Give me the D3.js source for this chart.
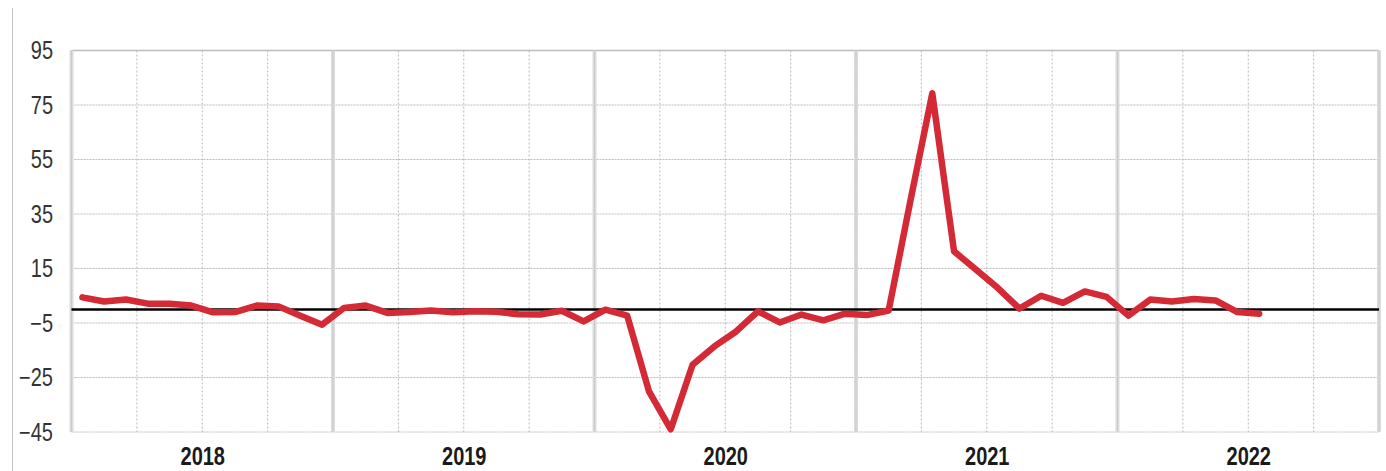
<!DOCTYPE html>
<html>
<head>
<meta charset="utf-8">
<script src="https://cdn.jsdelivr.net/npm/d3@7"></script>
<style>
    body { margin: 0; background: #fff; }
    .yAxis text { font-family: "Liberation Sans", Arial, sans-serif; font-size: 25px; fill: #333; }
    .xAxis text { font-family: "Liberation Sans", Arial, sans-serif; font-size: 25px; font-weight: bold; fill: #1a1a1a; }
</style>
</head>
<body>
<svg id="chart" width="1386" height="471"></svg>
<script>
// monthly values, Jan 2018 .. Jul 2022
var years = ["2018", "2019", "2020", "2021", "2022"];
var values2018 = [4.4, 2.9, 3.6, 2.1, 2.1, 1.4, -1.1, -1.0, 1.4, 1.1, -2.3, -5.6];
var values2019 = [0.5, 1.4, -1.3, -1.0, -0.4, -1.1, -0.7, -0.9, -1.8, -1.9, -0.5, -4.4];
var values2020 = [-0.1, -2.3, -30.1, -44.0, -20.3, -13.6, -8.1, -0.7, -4.8, -1.9, -4.0, -1.6];
var values2021 = [-2.1, -0.4, 40.0, 79.3, 21.3, 14.6, 7.9, 0.3, 5.0, 2.4, 6.6, 4.6];
var values2022 = [-2.3, 3.6, 2.9, 3.8, 3.3, -1.0, -1.6];
var yTicks = [95, 75, 55, 35, 15, -5, -25, -45];

var values = [].concat(values2018, values2019, values2020, values2021, values2022);

var svg = d3.select("#chart");

// plot area
var pLeft = 71.5, pRight = 1379, pTop = 50.5, pBottom = 432;
// narrow font look (no Arial Narrow installed)
var narrow = "scale(0.8,1)";

var x = d3.scaleLinear().domain([0, years.length * 12]).range([pLeft, pRight]);
var y = d3.scaleLinear().domain([-45, 95]).range([pBottom, pTop]);

// outer left rule
svg.append("line")
    .attr("x1", 12.5).attr("x2", 12.5)
    .attr("y1", 8).attr("y2", 471)
    .attr("stroke", "#c4c4c4").attr("stroke-width", 1);

var grid = svg.append("g");

// horizontal grid
grid.selectAll(".hgrid")
    .data(yTicks)
    .enter()
    .append("line")
    .attr("x1", pLeft).attr("x2", pRight)
    .attr("y1", d => y(d)).attr("y2", d => y(d))
    .attr("stroke", "#bdbdbd")
    .attr("stroke-width", d => d === 95 ? 1.5 : 1)
    .attr("stroke-dasharray", d => d === 95 ? null : "2,1");

// quarter lines
var quarters = [];
for (var m = 0; m < years.length * 12; m += 3) {
    if (m % 12 !== 0) quarters.push(m);
}
grid.selectAll(".qgrid")
    .data(quarters)
    .enter()
    .append("line")
    .attr("x1", d => x(d)).attr("x2", d => x(d))
    .attr("y1", pTop).attr("y2", pBottom)
    .attr("stroke", "#b8b8b8")
    .attr("stroke-width", 1)
    .attr("stroke-dasharray", "2,2");

// year separators
var yearLines = d3.range(0, years.length + 1).map(i => i * 12);
grid.selectAll(".ygrid")
    .data(yearLines)
    .enter()
    .append("line")
    .attr("x1", d => x(d)).attr("x2", d => x(d))
    .attr("y1", pTop).attr("y2", pBottom)
    .attr("stroke", "#dcdcdc")
    .attr("stroke-width", 4);
grid.selectAll(".ygrid2")
    .data(yearLines)
    .enter()
    .append("line")
    .attr("x1", d => x(d)).attr("x2", d => x(d))
    .attr("y1", pTop).attr("y2", pBottom)
    .attr("stroke", "#c0c0c0")
    .attr("stroke-width", 1)
    .attr("stroke-dasharray", "2,1");

// zero line
svg.append("line")
    .attr("x1", pLeft).attr("x2", pRight)
    .attr("y1", y(0)).attr("y2", y(0))
    .attr("stroke", "#000")
    .attr("stroke-width", 2.5);

// y axis labels
var yAxis = d3.axisLeft(y).tickValues(yTicks).tickSize(0).tickPadding(0).tickFormat(d3.format("d"));
svg.append("g")
    .attr("class", "yAxis")
    .attr("transform", "translate(53,0)")
    .call(yAxis)
    .call(g => g.select(".domain").remove())
    .selectAll("text").attr("transform", narrow);

// x axis year labels, centred in each year
var xAxis = d3.axisBottom(x)
    .tickValues(years.map((d, i) => i * 12 + 6))
    .tickSize(0)
    .tickPadding(15)
    .tickFormat((d, i) => years[i]);
svg.append("g")
    .attr("class", "xAxis")
    .attr("transform", "translate(0," + pBottom + ")")
    .call(xAxis)
    .call(g => g.select(".domain").remove())
    .selectAll("text").attr("transform", narrow);

// series line
var line = d3.line()
    .x((d, i) => x(i + 0.5))
    .y(d => y(d));

svg.append("path")
    .datum(values)
    .attr("fill", "none")
    .attr("stroke", "#d42a36")
    .attr("stroke-width", 6.5)
    .attr("stroke-linejoin", "round")
    .attr("stroke-linecap", "round")
    .attr("d", line);
</script>
</body>
</html>
